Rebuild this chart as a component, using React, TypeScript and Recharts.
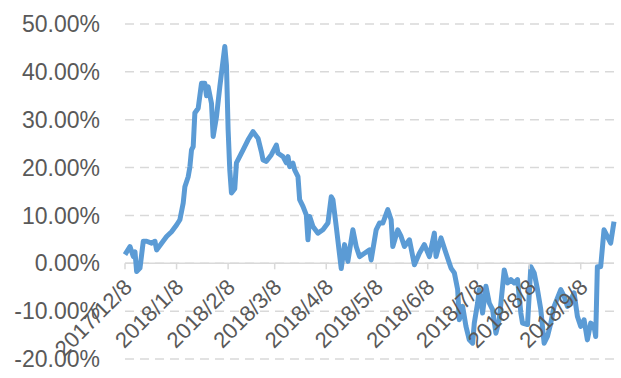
import { LineChart, Line, XAxis, YAxis, CartesianGrid, ReferenceLine } from "recharts";

// days since 2017/12/8
const days = [
  0, 3, 5, 6, 7, 9, 11, 13, 16, 18, 19, 22, 25, 28, 31, 33, 35, 36, 38, 39,
  40, 41, 42, 44, 46, 48, 49, 50, 52, 53, 55, 57, 60, 61, 62, 63, 64, 66, 67, 71,
  74, 77, 80, 82, 83, 85, 88, 91, 92, 95, 97, 98, 99, 101, 102, 104, 105, 107, 109, 110,
  111, 113, 116, 119, 122, 124, 125, 127, 130, 132, 134, 137, 139, 141, 144, 147, 148, 151, 153, 155,
  158, 160, 161, 164, 166, 168, 171, 174, 177, 180, 183, 186, 187, 190, 193, 196, 198, 200, 201, 203,
  205, 207, 209, 210, 212, 213, 215, 217, 219, 221, 223, 225, 228, 230, 232, 234, 236, 238, 239, 242,
  244, 246, 248, 250, 252, 254, 256, 258, 262, 264, 266, 269, 270, 272, 274, 276, 278, 280, 282, 283,
  284, 286, 288, 289, 292, 294,
];

// percent
const values = [
  1.8, 3.5, 1.4, 2.4, -1.7, -1.0, 4.6, 4.6, 4.2, 4.6, 2.8, 4.2, 5.6, 6.6, 8.0, 9.1, 12.6, 16.0, 18.1, 20.1,
  23.7, 24.4, 31.4, 32.4, 37.6, 37.6, 35.0, 36.9, 33.4, 26.5, 30.6, 36.9, 45.3, 41.4, 27.9, 19.5, 14.7, 15.6, 21.0, 23.7,
  25.8, 27.5, 26.1, 23.3, 21.6, 21.3, 22.7, 24.7, 23.0, 22.3, 21.0, 22.3, 20.2, 20.9, 19.5, 18.1, 13.3, 11.9, 10.1, 4.9,
  9.8, 7.7, 6.3, 7.0, 8.4, 13.9, 13.3, 7.7, -1.1, 3.9, 0.4, 7.0, 3.5, 1.4, 2.1, 2.8, 0.7, 7.0, 8.4, 8.4,
  11.2, 9.1, 3.5, 7.0, 5.6, 3.5, 4.9, -0.3, 2.1, 3.9, 1.4, 6.3, 1.4, 5.3, 2.1, -1.0, -2.0, -5.5, -11.8, -9.0,
  -13.2, -16.0, -16.7, -12.5, -8.3, -5.5, -10.4, -4.8, -8.3, -9.7, -14.6, -11.8, -1.4, -4.1, -3.4, -4.1, -3.4, -10.4, -12.5, -12.8,
  -0.7, -2.0, -5.5, -9.7, -16.7, -15.3, -12.5, -9.0, -5.5, -6.9, -9.0, -6.9, -6.2, -11.1, -13.2, -11.8, -16.0, -12.5, -13.2, -15.3,
  -0.7, -0.7, 7.0, 6.3, 4.2, 8.7,
];

const tickDays = [0, 31, 62, 90, 121, 151, 182, 212, 243, 274];
const tickLabels = [
  "2017/12/8", "2018/1/8", "2018/2/8", "2018/3/8", "2018/4/8",
  "2018/5/8", "2018/6/8", "2018/7/8", "2018/8/8", "2018/9/8",
];
const yTicks = [-20, -10, 0, 10, 20, 30, 40, 50];

const data = days.map((d, i) => ({ day: d, value: values[i] }));

const Y_MIN = -20;
const Y_MAX = 50;
const TOP = 24;
const BOTTOM = 18;
const X_H = 1;
const HEIGHT = 378;
const PLOT_H = HEIGHT - TOP - BOTTOM - X_H;
const ZERO_SHIFT = (PLOT_H * (0 - Y_MIN)) / (Y_MAX - Y_MIN);

const renderXTick = (props: any) => {
  const { x, y, payload } = props;
  const y0 = y - ZERO_SHIFT;
  const idx = tickDays.indexOf(payload.value);
  const lx = x + 3;
  const ly = y0 + 20;
  return (
    <g key={`t-${payload.value}`}>
      <line x1={x} x2={x} y1={y0} y2={y0 + 6} stroke="#d9d9d9" strokeWidth={1.5} />
      <text
        x={lx}
        y={ly}
        transform={`rotate(-45 ${lx} ${ly})`}
        textAnchor="end"
        dominantBaseline="central"
        fill="#595959"
        fontSize={22}
        fontFamily="Liberation Sans, Arial, sans-serif"
      >
        {tickLabels[idx]}
      </text>
    </g>
  );
};

const App = () => {
  return (
    <div style={{ position: "absolute", left: 0, top: 0, background: "#fff" }}>
      <LineChart
        width={621}
        height={HEIGHT}
        data={data}
        margin={{ top: TOP, right: 7, bottom: BOTTOM, left: 0 }}
      >
        <CartesianGrid vertical={false} stroke="#d9d9d9" strokeWidth={1.5} strokeDasharray="9 6" />
        <XAxis
          dataKey="day"
          type="number"
          domain={[0, 294]}
          ticks={tickDays}
          interval={0}
          height={X_H}
          axisLine={false}
          tickLine={false}
          tickSize={0}
          tickMargin={0}
          tick={renderXTick}
        />
        <YAxis
          type="number"
          domain={[Y_MIN, Y_MAX]}
          ticks={yTicks}
          width={125}
          axisLine={false}
          tickLine={false}
          tickMargin={19}
          tickFormatter={(v: number) => `${v.toFixed(2)}%`}
          tick={{ fill: "#595959", fontSize: 23, fontFamily: "Liberation Sans, Arial, sans-serif" }}
        />
        <ReferenceLine y={0} stroke="#d9d9d9" strokeWidth={1.5} />
        <Line
          type="linear"
          dataKey="value"
          stroke="#5B9BD5"
          strokeWidth={5}
          strokeLinejoin="round"
          dot={false}
          activeDot={false}
          isAnimationActive={false}
        />
      </LineChart>
    </div>
  );
};

export default App;
